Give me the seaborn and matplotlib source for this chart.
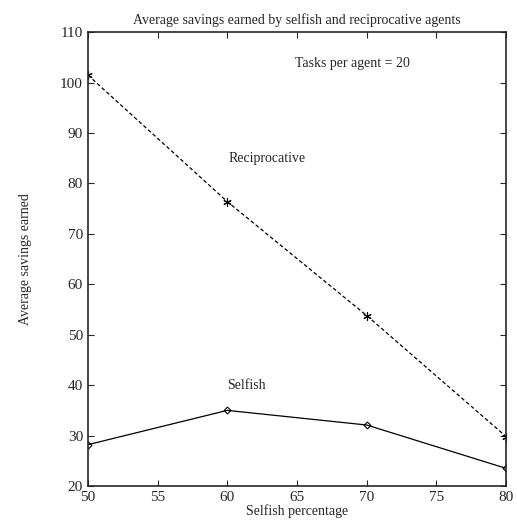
import numpy as np
import matplotlib
matplotlib.use('Agg')
import matplotlib.pyplot as plt
import seaborn as sns

# data
selfish_pct = [50, 60, 70, 80]
reciprocative = [101.5, 76.4, 53.8, 29.8]
selfish = [28.2, 35.0, 32.1, 23.5]

sns.set_style('ticks')
plt.rcParams['font.family'] = ['Liberation Serif', 'DejaVu Serif']

fig = plt.figure(figsize=(5.17, 5.28), dpi=100)
ax = fig.add_axes([0.170, 0.0795, 0.809, 0.8595])

# reciprocative: dashed with small asterisks
sns.lineplot(x=selfish_pct, y=reciprocative, color='black', linewidth=0.9,
             linestyle=(0, (3, 2)), marker=(6, 2, 0), markersize=6,
             markeredgecolor='black', markeredgewidth=0.8, ax=ax)
# selfish: solid with open diamonds
sns.lineplot(x=selfish_pct, y=selfish, color='black', linewidth=0.9,
             marker='D', markersize=3.5, markerfacecolor='none',
             markeredgecolor='black', markeredgewidth=0.8, ax=ax)

ax.set_xlim(50, 80)
ax.set_ylim(20, 110)
ax.set_xticks(np.arange(50, 81, 5))
ax.set_yticks(np.arange(20, 111, 10))
ax.tick_params(direction='in', top=True, right=True, labelsize=11, length=4, width=0.8)
for s in ax.spines.values():
    s.set_linewidth(1.2)
    s.set_visible(True)

ax.set_title('Average savings earned by selfish and reciprocative agents', fontsize=10, pad=6)
ax.set_xlabel('Selfish percentage', fontsize=10, labelpad=0)
ax.set_ylabel('Average savings earned', fontsize=10, labelpad=20)

ax.text(62.85, 85, 'Reciprocative', fontsize=10, ha='center', va='center')
ax.text(61.4, 40, 'Selfish', fontsize=10, ha='center', va='center')
ax.text(69, 103.8, 'Tasks per agent = 20', fontsize=10, ha='center', va='center')

fig.savefig('out.png', dpi=100)
